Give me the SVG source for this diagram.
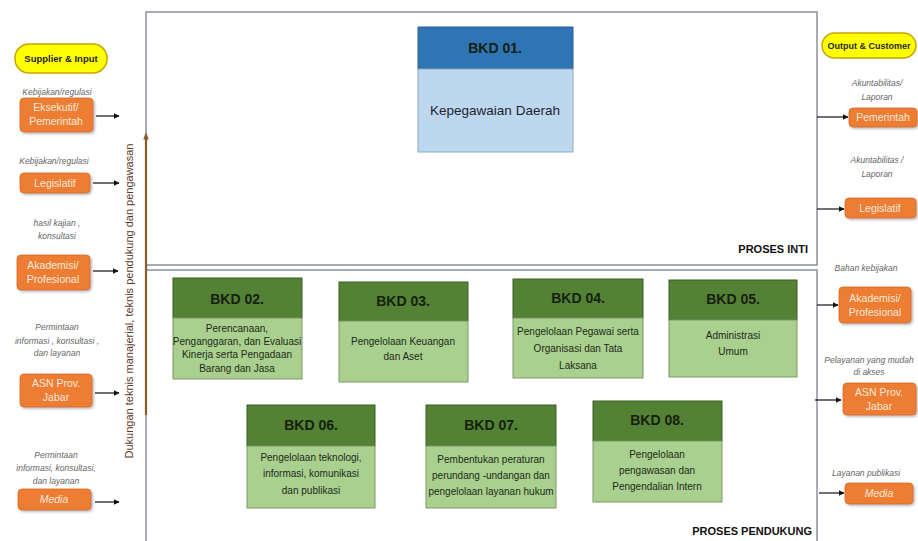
<svg xmlns="http://www.w3.org/2000/svg" width="918" height="541" viewBox="0 0 918 541">
<defs>
<style>
.frame{fill:none;stroke:#8c9099;stroke-width:1.5}
.pill{fill:#ffff00;stroke:#c9a400;stroke-width:1.5}
.pilltxt{font-family:"Liberation Sans",Arial,sans-serif;font-weight:bold;fill:#1f1f1f;text-anchor:middle}
.org{fill:#ed7d31;stroke:#d9691f;stroke-width:0.8}
.orgtxt{font-family:"Liberation Sans",Arial,sans-serif;font-size:10.5px;fill:#fde9dc;text-anchor:middle}
.lbl{font-family:"Liberation Sans",Arial,sans-serif;font-size:8.5px;font-style:italic;fill:#666;text-anchor:middle}
.gh{fill:#548235;stroke:#3b5e25;stroke-width:1}
.gb{fill:#a9d08e;stroke:#7a9a66;stroke-width:1}
.bh{fill:#2e75b6;stroke:#2a5e8f;stroke-width:1}
.bb{fill:#bdd7ee;stroke:#8fa9c4;stroke-width:1}
.hd{font-family:"Liberation Sans",Arial,sans-serif;font-size:14px;font-weight:bold;fill:#15200f;text-anchor:middle}
.bd{font-family:"Liberation Sans",Arial,sans-serif;font-size:10px;fill:#1e2a18;text-anchor:middle}
.sec{font-family:"Liberation Sans",Arial,sans-serif;font-size:11px;font-weight:bold;fill:#111;text-anchor:end}
.arr{stroke:#111;stroke-width:1.2;fill:none;marker-end:url(#ah)}
</style>
<marker id="ah" viewBox="0 0 10 10" refX="9" refY="5" markerWidth="6" markerHeight="6" markerUnits="userSpaceOnUse" orient="auto">
<path d="M0,0 L10,5 L0,10 z" fill="#111"/>
</marker>
<marker id="bah" viewBox="0 0 10 10" refX="8" refY="5" markerWidth="7" markerHeight="7" markerUnits="userSpaceOnUse" orient="auto">
<path d="M0,1 L10,5 L0,9 z" fill="#8b5a2b"/>
</marker>
<filter id="sh" x="-20%" y="-20%" width="150%" height="160%">
<feDropShadow dx="1.5" dy="1.5" stdDeviation="1.2" flood-color="#888" flood-opacity="0.6"/>
</filter>
</defs>
<rect width="918" height="541" fill="#ffffff"/>

<!-- frames -->
<g id="proses-inti">
<rect class="frame" x="146" y="12" width="671" height="253"/>
<text class="sec" x="808" y="253">PROSES INTI</text>
</g>
<g id="proses-pendukung">
<rect class="frame" x="146" y="270" width="671" height="290"/>
<text class="sec" x="812" y="535">PROSES PENDUKUNG</text>
</g>

<!-- vertical support text -->
<g id="dukungan">
<text x="130" y="301" transform="rotate(-90 130 301)" font-family="'Liberation Sans',Arial,sans-serif" font-size="11" fill="#5b3a1e" text-anchor="middle" dominant-baseline="middle">Dukungan teknis manajerial, teknis pendukung dan pengawasan</text>
</g>

<!-- left side -->
<g id="supplier-input">
<rect class="pill" x="15" y="44" width="92" height="29" rx="14"/>
<text class="pilltxt" x="61" y="62" font-size="9.5">Supplier &amp; Input</text>
</g>
<g id="in-eksekutif">
<text class="lbl" x="57" y="95">Kebijakan/regulasi</text>
<rect class="org" x="20" y="98" width="73" height="34" rx="4" filter="url(#sh)"/>
<text class="orgtxt" x="56" y="111">Eksekutif/</text>
<text class="orgtxt" x="56" y="125">Pemerintah</text>
</g>
<g id="in-legislatif">
<text class="lbl" x="54" y="164">Kebijakan/regulasi</text>
<rect class="org" x="20" y="173" width="70" height="20" rx="4" filter="url(#sh)"/>
<text class="orgtxt" x="55" y="187">Legislatif</text>
</g>
<g id="in-akademisi">
<text class="lbl" x="57" y="226">hasil kajian ,</text>
<text class="lbl" x="57" y="239">konsultasi</text>
<rect class="org" x="17" y="255" width="73" height="35" rx="4" filter="url(#sh)"/>
<text class="orgtxt" x="53" y="269">Akademisi/</text>
<text class="orgtxt" x="53" y="283">Profesional</text>
</g>
<g id="in-asn">
<text class="lbl" x="57" y="330">Permintaan</text>
<text class="lbl" x="57" y="344">informasi , konsultasi ,</text>
<text class="lbl" x="57" y="356">dan layanan</text>
<rect class="org" x="20" y="374" width="72" height="33" rx="4" filter="url(#sh)"/>
<text class="orgtxt" x="56" y="387">ASN Prov.</text>
<text class="orgtxt" x="56" y="401">Jabar</text>
</g>
<g id="in-media">
<text class="lbl" x="56" y="458">Permintaan</text>
<text class="lbl" x="56" y="471">informasi, konsultasi,</text>
<text class="lbl" x="56" y="484">dan layanan</text>
<rect class="org" x="18" y="489" width="73" height="21" rx="4" filter="url(#sh)"/>
<text class="orgtxt" x="54" y="503" font-style="italic">Media</text>
</g>

<!-- right side -->
<g id="output-customer">
<rect class="pill" x="822" y="33" width="94" height="25" rx="12.5"/>
<text class="pilltxt" x="869" y="49" font-size="9">Output &amp; Customer</text>
</g>
<g id="out-pemerintah">
<text class="lbl" x="877" y="86">Akuntabilitas/</text>
<text class="lbl" x="877" y="100">Laporan</text>
<rect class="org" x="849" y="108" width="68" height="19" rx="4" filter="url(#sh)"/>
<text class="orgtxt" x="883" y="121">Pemerintah</text>
</g>
<g id="out-legislatif">
<text class="lbl" x="877" y="163">Akuntabilitas /</text>
<text class="lbl" x="877" y="177">Laporan</text>
<rect class="org" x="845" y="198" width="71" height="20" rx="4" filter="url(#sh)"/>
<text class="orgtxt" x="880" y="212">Legislatif</text>
</g>
<g id="out-akademisi">
<text class="lbl" x="866" y="271">Bahan kebijakan</text>
<rect class="org" x="839" y="287" width="72" height="36" rx="4" filter="url(#sh)"/>
<text class="orgtxt" x="875" y="302">Akademisi/</text>
<text class="orgtxt" x="875" y="316">Profesional</text>
</g>
<g id="out-asn">
<text class="lbl" x="869" y="363">Pelayanan yang mudah</text>
<text class="lbl" x="869" y="375">di akses</text>
<rect class="org" x="843" y="383" width="73" height="32" rx="4" filter="url(#sh)"/>
<text class="orgtxt" x="879" y="396">ASN Prov.</text>
<text class="orgtxt" x="879" y="410">Jabar</text>
</g>
<g id="out-media">
<text class="lbl" x="866" y="476">Layanan publikasi</text>
<rect class="org" x="845" y="483" width="68" height="21" rx="4" filter="url(#sh)"/>
<text class="orgtxt" x="879" y="497" font-style="italic">Media</text>
</g>

<!-- core process -->
<g id="bkd01">
<rect class="bh" x="418" y="27" width="155" height="42"/>
<rect class="bb" x="418" y="69" width="155" height="83"/>
<text class="hd" x="495" y="53" fill="#0d1b2a">BKD 01.</text>
<text x="495" y="115" font-family="'Liberation Sans',Arial,sans-serif" font-size="13.5" fill="#1a2430" text-anchor="middle">Kepegawaian Daerah</text>
</g>

<!-- support processes -->
<g id="bkd02">
<rect class="gh" x="173" y="278" width="129" height="40"/>
<rect class="gb" x="173" y="318" width="129" height="61"/>
<text class="hd" x="237" y="304">BKD 02.</text>
<text class="bd" x="237" y="332" font-size="8.2">Perencanaan,</text>
<text class="bd" x="237" y="345" font-size="8.2">Penganggaran, dan Evaluasi</text>
<text class="bd" x="237" y="358" font-size="8.2">Kinerja serta Pengadaan</text>
<text class="bd" x="237" y="372" font-size="8.2">Barang dan Jasa</text>
</g>
<g id="bkd03">
<rect class="gh" x="339" y="282" width="129" height="39"/>
<rect class="gb" x="339" y="321" width="129" height="61"/>
<text class="hd" x="403" y="306">BKD 03.</text>
<text class="bd" x="403" y="345">Pengelolaan Keuangan</text>
<text class="bd" x="403" y="360">dan Aset</text>
</g>
<g id="bkd04">
<rect class="gh" x="513" y="279" width="130" height="39"/>
<rect class="gb" x="513" y="318" width="130" height="60"/>
<text class="hd" x="578" y="303">BKD 04.</text>
<text class="bd" x="578" y="335">Pengelolaan Pegawai serta</text>
<text class="bd" x="578" y="352">Organisasi dan Tata</text>
<text class="bd" x="578" y="369">Laksana</text>
</g>
<g id="bkd05">
<rect class="gh" x="669" y="280" width="128" height="40"/>
<rect class="gb" x="669" y="320" width="128" height="57"/>
<text class="hd" x="733" y="304">BKD 05.</text>
<text class="bd" x="733" y="339">Administrasi</text>
<text class="bd" x="733" y="355">Umum</text>
</g>
<g id="bkd06">
<rect class="gh" x="247" y="405" width="128" height="41"/>
<rect class="gb" x="247" y="446" width="128" height="62"/>
<text class="hd" x="311" y="430">BKD 06.</text>
<text class="bd" x="311" y="461">Pengelolaan teknologi,</text>
<text class="bd" x="311" y="477">informasi, komunikasi</text>
<text class="bd" x="311" y="494">dan publikasi</text>
</g>
<g id="bkd07">
<rect class="gh" x="426" y="405" width="130" height="41"/>
<rect class="gb" x="426" y="446" width="130" height="62"/>
<text class="hd" x="491" y="430">BKD 07.</text>
<text class="bd" x="491" y="463">Pembentukan peraturan</text>
<text class="bd" x="491" y="479">perundang -undangan dan</text>
<text class="bd" x="491" y="495">pengelolaan layanan hukum</text>
</g>
<g id="bkd08">
<rect class="gh" x="593" y="401" width="129" height="40"/>
<rect class="gb" x="593" y="441" width="129" height="61"/>
<text class="hd" x="657" y="425">BKD 08.</text>
<text class="bd" x="657" y="458">Pengelolaan</text>
<text class="bd" x="657" y="474">pengawasan dan</text>
<text class="bd" x="657" y="490">Pengendalian Intern</text>
</g>

<!-- connectors -->
<g id="connectors">
<line class="arr" x1="96" y1="116" x2="119" y2="116"/>
<line class="arr" x1="93" y1="183" x2="119" y2="183"/>
<line class="arr" x1="93" y1="271" x2="118" y2="271"/>
<line class="arr" x1="95" y1="393" x2="119" y2="393"/>
<line class="arr" x1="95" y1="502" x2="119" y2="502"/>
<line class="arr" x1="817" y1="117" x2="848" y2="117"/>
<line class="arr" x1="817" y1="209" x2="844" y2="209"/>
<line class="arr" x1="817" y1="305" x2="838" y2="305"/>
<line class="arr" x1="815" y1="400" x2="841" y2="400"/>
<line class="arr" x1="819" y1="493" x2="844" y2="493"/>
<line x1="146" y1="415" x2="146" y2="134" stroke="#8b5a2b" stroke-width="2.2" marker-end="url(#bah)"/>
</g>
</svg>
